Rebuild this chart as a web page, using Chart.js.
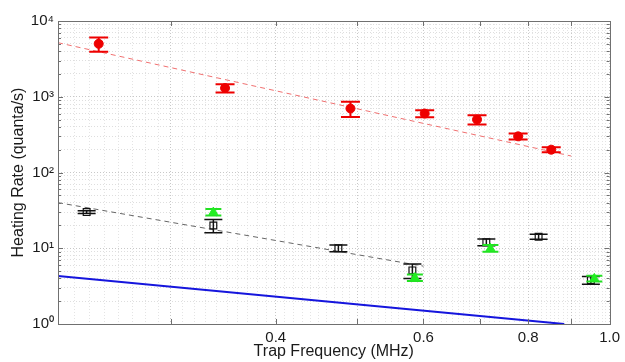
<!DOCTYPE html>
<html lang="en">
<head>
<meta charset="UTF-8">
<title>Heating Rate vs Trap Frequency</title>
<script src="https://cdn.jsdelivr.net/npm/chart.js"></script>
<style>
  html, body { margin: 0; padding: 0; background: #fff; }
  #wrap { width: 625px; height: 362px; }
</style>
</head>
<body>
<div id="wrap"><canvas id="heatChart" width="625" height="362"></canvas></div>
<script>
// measured points (MHz, quanta/s, +/- error)
const redFreq = [0.246, 0.348, 0.491, 0.602, 0.695, 0.778, 0.852];
const redRate = [5000, 1300, 700, 600, 500, 300, 200];
const redErr  = [1070, 165, 160, 62, 70, 28, 15];

const blackFreq = [0.238, 0.337, 0.475, 0.582, 0.713, 0.823, 0.950];
const blackRate = [30, 20, 10, 5.1, 12, 14.2, 3.8];
const blackErr  = [1.2, 4, 1, 1.1, 1.2, 1.1, 0.45];

const greenFreq = [0.337, 0.586, 0.721, 0.959];
const greenRate = [30, 4.1, 10, 4.0];
const greenErr  = [3, 0.4, 1, 0.35];

// fit lines and model line (end points)
const redFitFreq   = [0.22, 0.90];
const redFitRate   = [5170, 165];
const blackFitFreq = [0.22, 0.60];
const blackFitRate = [40, 5.8];
const blueFreq     = [0.22, 0.883];
const blueRate     = [4.3, 1.0];

// axes
const xTicks = [0.3, 0.4, 0.5, 0.6, 0.7, 0.8, 0.9, 1.0];
const xTickLabels = ['', '0.4', '', '0.6', '', '0.8', '', '1.0'];
const yDecades = [1, 10, 100, 1000, 10000];
const yDecadeLabels = ['10\u2070', '10\u00b9', '10\u00b2', '10\u00b3', '10\u2074'];

const pts = (xs, ys) => xs.map((x, i) => ({x: x, y: ys[i]}));

// dense minor grid like the matlab figure
const xGrid = [];
for (let k = 22; k <= 100; k++) xGrid.push(k / 100);
const yGrid = [];
yDecades.forEach((d, i) => {
    yGrid.push(d);
    if (i < yDecades.length - 1) for (let m = 2; m <= 9; m++) yGrid.push(d * m);
});

const errorBars = {
    id: 'errorBars',
    beforeDatasetDraw(chart, args) {
        const ds = chart.data.datasets[args.index];
        if (!ds.errors) return;
        const {ctx, chartArea} = chart;
        const xs = chart.scales.x, ys = chart.scales.y;
        ctx.save();
        ctx.beginPath();
        ctx.rect(chartArea.left, chartArea.top, chartArea.width, chartArea.height);
        ctx.clip();
        ctx.strokeStyle = ds.errColor;
        ctx.lineWidth = ds.errWidth;
        ds.data.forEach((p, i) => {
            const px = xs.getPixelForValue(p.x);
            const hi = ys.getPixelForValue(p.y + ds.errors[i]);
            const lo = ys.getPixelForValue(p.y - ds.errors[i]);
            const w = ds.capWidth / 2;
            ctx.beginPath();
            ctx.moveTo(px, hi); ctx.lineTo(px, lo);
            ctx.moveTo(px - w, hi); ctx.lineTo(px + w, hi);
            ctx.moveTo(px - w, lo); ctx.lineTo(px + w, lo);
            ctx.stroke();
        });
        ctx.restore();
    }
};

// box + inward ticks
const frame = {
    id: 'frame',
    afterDraw(chart) {
        const {ctx, chartArea: a} = chart;
        const xs = chart.scales.x, ys = chart.scales.y;
        ctx.save();
        ctx.strokeStyle = '#707070';
        ctx.lineWidth = 1;
        ctx.beginPath();
        xTicks.forEach(v => {
            const px = Math.round(xs.getPixelForValue(v)) + 0.5;
            ctx.moveTo(px, a.bottom); ctx.lineTo(px, a.bottom - 5);
            ctx.moveTo(px, a.top); ctx.lineTo(px, a.top + 5);
        });
        yGrid.forEach(v => {
            const len = yDecades.includes(v) ? 5 : 3;
            const py = Math.round(ys.getPixelForValue(v)) + 0.5;
            ctx.moveTo(a.left, py); ctx.lineTo(a.left + len, py);
            ctx.moveTo(a.right, py); ctx.lineTo(a.right - len, py);
        });
        ctx.stroke();
        ctx.strokeRect(Math.round(a.left) + 0.5, Math.round(a.top) + 0.5,
                       Math.round(a.width), Math.round(a.height));
        ctx.restore();
    }
};

const font = "'Liberation Sans', Arial, sans-serif";

new Chart(document.getElementById('heatChart'), {
    type: 'scatter',
    data: {
        datasets: [
            {
                data: pts(greenFreq, greenRate),
                errors: greenErr, errColor: '#22e022', errWidth: 2, capWidth: 16,
                pointStyle: 'triangle', pointRadius: 5,
                backgroundColor: '#22ee22', borderColor: '#22ee22', borderWidth: 1
            },
            {
                data: pts(redFreq, redRate),
                errors: redErr, errColor: '#ee0000', errWidth: 2, capWidth: 19,
                pointStyle: 'circle', pointRadius: 4.5,
                backgroundColor: '#ee0000', borderColor: '#ee0000', borderWidth: 1
            },
            {
                data: pts(blackFreq, blackRate),
                errors: blackErr, errColor: '#111', errWidth: 1.5, capWidth: 18,
                pointStyle: 'rect', pointRadius: 4.8,
                backgroundColor: 'rgba(0,0,0,0)', borderColor: '#111', borderWidth: 1.2
            },
            {
                data: pts(blueFreq, blueRate),
                showLine: true, pointRadius: 0,
                borderColor: '#1515dd', borderWidth: 2
            },
            {
                data: pts(redFitFreq, redFitRate),
                showLine: true, pointRadius: 0,
                borderColor: '#f07070', borderWidth: 1, borderDash: [5, 4]
            },
            {
                data: pts(blackFitFreq, blackFitRate),
                showLine: true, pointRadius: 0,
                borderColor: '#666', borderWidth: 1, borderDash: [5, 4]
            }
        ]
    },
    options: {
        responsive: false,
        animation: false,
        devicePixelRatio: 1,
        layout: { padding: { top: 21, right: 13, left: 0, bottom: 0 } },
        plugins: {
            legend: { display: false },
            tooltip: { enabled: false }
        },
        scales: {
            x: {
                type: 'logarithmic',
                min: 0.22,
                max: 1.0,
                afterBuildTicks: s => { s.ticks = xGrid.map(v => ({value: v})); },
                afterFit: s => { s.height = 38; },
                grid: {
                    drawTicks: false,
                    color: c => xTicks.some(v => Math.abs(v - c.tick.value) < 1e-6) ? '#c8c8c8' : '#e4e4e4',
                    lineWidth: 1
                },
                border: { display: false, dash: [1, 2] },
                ticks: {
                    autoSkip: false,
                    maxRotation: 0,
                    padding: 5,
                    color: '#1a1a1a',
                    font: { family: font, size: 15 },
                    callback: v => {
                        const i = xTicks.findIndex(t => Math.abs(t - v) < 1e-6);
                        return i >= 0 ? xTickLabels[i] : '';
                    }
                },
                title: {
                    display: true,
                    text: 'Trap Frequency (MHz)',
                    color: '#1a1a1a',
                    font: { family: font, size: 16 },
                    padding: { top: 0, bottom: 1 }
                }
            },
            y: {
                type: 'logarithmic',
                min: 1,
                max: 10000,
                afterBuildTicks: s => { s.ticks = yGrid.map(v => ({value: v})); },
                afterFit: s => { s.width = 58; },
                grid: {
                    drawTicks: false,
                    color: c => yDecades.includes(c.tick.value) ? '#c8c8c8' : '#dedede',
                    lineWidth: 1
                },
                border: { display: false, dash: [1, 2] },
                ticks: {
                    autoSkip: false,
                    padding: 4,
                    color: '#1a1a1a',
                    font: { family: font, size: 15 },
                    callback: v => {
                        const i = yDecades.indexOf(v);
                        return i >= 0 ? yDecadeLabels[i] : '';
                    }
                },
                title: {
                    display: true,
                    text: 'Heating Rate (quanta/s)',
                    color: '#1a1a1a',
                    font: { family: font, size: 16 },
                    padding: { top: 9, bottom: 0 }
                }
            }
        }
    },
    plugins: [errorBars, frame]
});
</script>
</body>
</html>
